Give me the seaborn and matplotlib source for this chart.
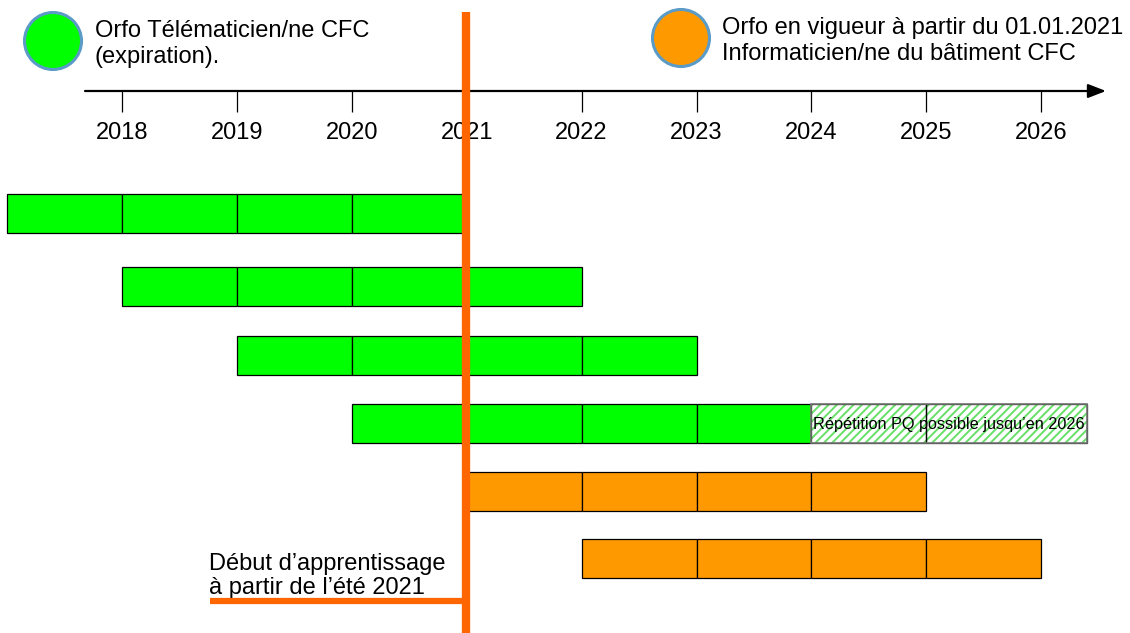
import numpy as np
import pandas as pd
import matplotlib
matplotlib.use('Agg')
import matplotlib.pyplot as plt
from matplotlib.patches import Ellipse
import seaborn as sns

sns.set_theme(style='white')
plt.rcParams['font.family'] = ['Liberation Sans', 'DejaVu Sans']
plt.rcParams['text.color'] = 'black'
plt.rcParams['hatch.linewidth'] = 1.4

# --- data ---
years = [2018, 2019, 2020, 2021, 2022, 2023, 2024, 2025, 2026]
row_start = [2017, 2018, 2019, 2020, 2021, 2022]
row_end = [2021, 2022, 2023, 2024, 2025, 2026]
row_kind = ['old', 'old', 'old', 'old', 'new', 'new']
repeat_row = 3
repeat_start = [2024, 2025]
repeat_end = [2025, 2026.4]
repeat_label = "Répétition PQ possible jusqu’en 2026"
cutoff_year = 2021
old_label = "Orfo Télématicien/ne CFC\n(expiration)."
new_label = "Orfo en vigueur à partir du 01.01.2021\nInformaticien/ne du bâtiment CFC"
start_label = "Début d’apprentissage\nà partir de l’été 2021"

colors = {'old': '#00FF00', 'new': '#FF9900'}
line_orange = '#FF6600'
circle_edge = '#5A9BC8'

# layout: vertical pixel centre of each row
row_px = [213.5, 286.5, 355.5, 423.5, 491.5, 558.5]

# segments table: one box per year
rows = []
for i, (s, e, k) in enumerate(zip(row_start, row_end, row_kind)):
    for y in range(s, e):
        rows.append({'row': i, 'start': y, 'end': y + 1, 'kind': k})
seg = pd.DataFrame(rows)

W, H = 1130, 633
PX_YEAR = 114.9
X0 = 2018 - 122 / PX_YEAR


def px_x(p):
    return X0 + p / PX_YEAR


fig = plt.figure(figsize=(W / 100, H / 100), dpi=100)
ax = fig.add_axes([0, 0, 1, 1])
ax.set_xlim(px_x(0), px_x(W))
ax.set_ylim(H, 0)
ax.axis('off')

bar_h = 39
seg['y'] = [row_px[r] for r in seg['row']]

# bars
for kind, g in seg.groupby('kind'):
    ax.barh(g['y'], g['end'] - g['start'], left=g['start'], height=bar_h,
            color=colors[kind], edgecolor='black', linewidth=0.9, zorder=2)

# repeat (hatched) boxes
rs = np.array(repeat_start)
re_ = np.array(repeat_end)
ry = row_px[repeat_row]
ax.barh([ry] * len(rs), re_ - rs, left=rs, height=bar_h,
        color='white', edgecolor='#66E066', hatch='////', linewidth=0, zorder=2)
ax.barh([ry] * len(rs), re_ - rs, left=rs, height=bar_h,
        fill=False, edgecolor='black', linewidth=0.9, zorder=3)
ax.barh([ry], [re_[-1] - rs[0]], left=[rs[0]], height=bar_h,
        fill=False, edgecolor='#777777', linewidth=1.2, zorder=3)
ax.text((rs[0] + re_[-1]) / 2, ry + 1, repeat_label, ha='center',
        va='center', fontsize=11.7, zorder=4)

# timeline axis with arrow
axis_y = 91
ax.annotate('', xy=(px_x(1106), axis_y), xytext=(px_x(85), axis_y),
            arrowprops=dict(arrowstyle='-|>,head_length=0.9,head_width=0.35',
                            color='black', lw=1.6, shrinkA=0, shrinkB=0))
ax.vlines(years, axis_y, 112, color='black', lw=0.9)
for yr in years:
    ax.text(yr, 133, str(yr), ha='center', va='center', fontsize=17)

# cutoff lines
ax.vlines(cutoff_year - 0.01, 12, H, color=line_orange, lw=6, zorder=5)
ax.hlines(601, px_x(210), cutoff_year, color=line_orange, lw=4.5, zorder=5)
ax.text(px_x(209), 576, start_label, ha='left', va='center',
        fontsize=17, linespacing=1.15, zorder=4)

# legend circles
r_x = 28.5 / PX_YEAR
r_y = 28.5
for cx, cy, k in [(53, 41, 'old'), (681, 38, 'new')]:
    ax.add_patch(Ellipse((px_x(cx), cy), 2 * r_x, 2 * r_y,
                         facecolor=colors[k], edgecolor=circle_edge, lw=2.2))
ax.text(px_x(95), 44, old_label, ha='left', va='center', fontsize=17,
        linespacing=1.2)
ax.text(px_x(722), 41, new_label, ha='left', va='center', fontsize=17,
        linespacing=1.2)

fig.savefig('out.png', dpi=100)
